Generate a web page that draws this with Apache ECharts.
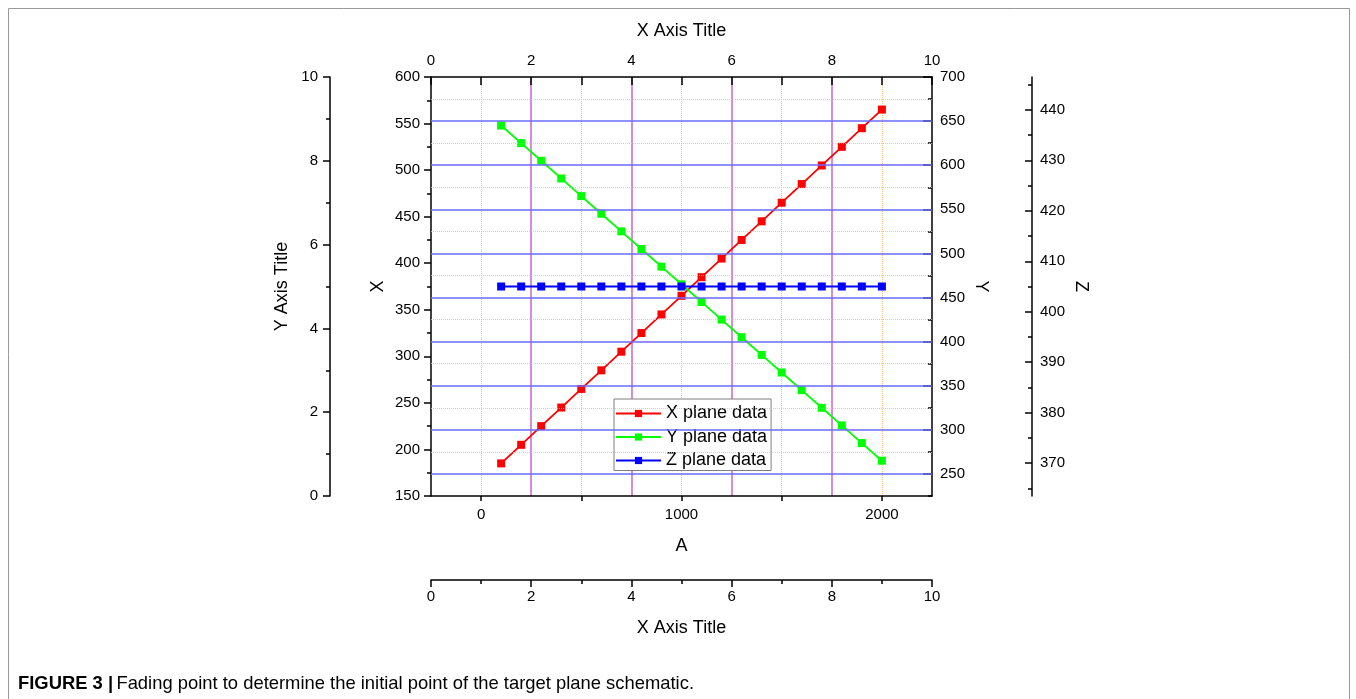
<!DOCTYPE html>
<html>
<head>
<meta charset="utf-8">
<script src="https://cdn.jsdelivr.net/npm/echarts@6/dist/echarts.min.js"></script>
<style>
html,body{margin:0;padding:0;background:#fff;}
#chart{width:1356px;height:699px;}
</style>
</head>
<body>
<div id="chart"></div>
<script>
// ---- data ----
const aValues = [100,200,300,400,500,600,700,800,900,1000,1100,1200,1300,1400,1500,1600,1700,1800,1900,2000];
const xPlane = [185,205,225,245,265,285,305,325,345,365,385,405,425,445,465,485,505,525,545,565];
const yPlane = [645,625,605,585,565,545,525,505,485,465,445,425,405,385,365,345,325,305,285,265];
const zPlane = [405,405,405,405,405,405,405,405,405,405,405,405,405,405,405,405,405,405,405,405];
const seriesNames = ['X plane data','Y plane data','Z plane data'];
// tick / grid values
const aTickValues = [0,500,1000,1500,2000];
const aLabelValues = [0,1000,2000];
const yMajorTicks = [250,300,350,400,450,500,550,600,650,700];
const yMajorGrid = [250,300,350,400,450,500,550,600,650];
const yMinorGrid = [275,325,375,425,475,525,575,625,675];
const zMajorTicks = [370,380,390,400,410,420,430,440];
const zMinorTicks = [365,375,385,395,405,415,425,435,445];

const FONT = "'Liberation Sans', Arial, sans-serif";
const chart = echarts.init(document.getElementById('chart'));

const lbl = (extra) => Object.assign({color:'#000', fontSize:15, fontFamily:FONT}, extra||{});
const nameStyle = {color:'#000', fontSize:18, fontFamily:FONT};
const axLine = {show:true, onZero:false, lineStyle:{color:'#000', width:1.5}};
const noLine = {show:false, onZero:false};
const tickStyle = {color:'#000', width:1.5};
const plain = (v) => String(v);

function pairs(ys){ return aValues.map((a,i)=>[a, ys[i]]); }

const gridMarks = []
  .concat(yMinorGrid.map(v => ({yAxis:v, lineStyle:{color:'#ff9cff', width:1, type:'dotted', opacity:0.8}})))
  .concat(yMajorGrid.map(v => ({yAxis:v, lineStyle:{color:'#6a6aff', width:1.6, type:'solid'}})));

const option = {
  animation:false,
  backgroundColor:'#fff',
  grid:{left:431, right:424, top:77, bottom:203, containLabel:false},
  legend:{
    data:seriesNames, orient:'vertical', left:614, top:399,
    itemWidth:45, itemHeight:9, itemGap:3.5,
    padding:[4.5,4,0,1],
    backgroundColor:'#fff', borderColor:'#7f7f7f', borderWidth:1, borderRadius:0,
    textStyle:{color:'#000', fontSize:18, fontFamily:FONT, lineHeight:20}
  },
  xAxis:[
    { // A axis (bottom)
      type:'value', position:'bottom', min:-250, max:2250,
      name:'A', nameLocation:'middle', nameGap:41, nameTextStyle:nameStyle,
      axisLine:axLine,
      axisTick:{show:true, inside:false, length:5, lineStyle:tickStyle, customValues:aTickValues},
      axisLabel:lbl({margin:11, customValues:aLabelValues, formatter:plain}),
      splitLine:{show:false}
    },
    { // top axis 0..10
      type:'value', position:'top', min:0, max:10, interval:2,
      name:'X Axis Title', nameLocation:'middle', nameGap:37, nameTextStyle:nameStyle,
      axisLine:axLine,
      axisTick:{show:true, inside:true, length:8, lineStyle:tickStyle},
      minorTick:{show:true, splitNumber:2, length:8, lineStyle:{color:'#000', width:1.5}},
      axisLabel:lbl({margin:9}),
      splitLine:{show:true, showMinLine:false, showMaxLine:false, lineStyle:{color:'#cc70cc', width:1.6}},
      minorSplitLine:{show:true, lineStyle:{color:'#ffbf80', width:1, type:'dotted'}}
    },
    { // extra bottom axis 0..10
      type:'value', position:'bottom', offset:84, min:0, max:10, interval:2,
      name:'X Axis Title', nameLocation:'middle', nameGap:39, nameTextStyle:nameStyle,
      axisLine:axLine,
      axisTick:{show:true, inside:false, length:7, lineStyle:tickStyle},
      minorTick:{show:true, splitNumber:2, length:4, lineStyle:{color:'#000', width:1.5}},
      axisLabel:lbl({margin:9}),
      splitLine:{show:false}
    }
  ],
  yAxis:[
    { // 0: left X axis
      type:'value', position:'left', min:150, max:600, interval:50,
      name:'X', nameLocation:'middle', nameGap:44, nameRotate:90, nameTextStyle:nameStyle,
      axisLine:axLine,
      axisTick:{show:true, inside:false, length:7, lineStyle:tickStyle},
      minorTick:{show:true, splitNumber:2, length:4, lineStyle:{color:'#000', width:1.5}},
      axisLabel:lbl({margin:11}),
      splitLine:{show:false}
    },
    { // 1: far-left Y Axis Title axis
      type:'value', position:'left', offset:101, min:0, max:10, interval:2,
      name:'Y Axis Title', nameLocation:'middle', nameGap:39, nameRotate:90, nameTextStyle:nameStyle,
      axisLine:axLine,
      axisTick:{show:true, inside:false, length:7, lineStyle:tickStyle},
      minorTick:{show:true, splitNumber:2, length:4, lineStyle:{color:'#000', width:1.5}},
      axisLabel:lbl({margin:12}),
      splitLine:{show:false}
    },
    { // 2: right Y axis (labels, short ticks)
      type:'value', position:'right', min:225, max:700, interval:25,
      name:'Y', nameLocation:'middle', nameGap:40, nameRotate:-90, nameTextStyle:nameStyle,
      axisLine:axLine,
      axisTick:{show:true, inside:true, length:4, lineStyle:tickStyle},
      axisLabel:lbl({margin:8, formatter:(v)=> (v % 50 === 0 ? String(v) : '')}),
      splitLine:{show:false}
    },
    { // 3: right Y major ticks
      type:'value', position:'right', min:225, max:700,
      axisLine:noLine,
      axisTick:{show:true, inside:true, length:9, lineStyle:tickStyle, customValues:yMajorTicks},
      axisLabel:{show:false}, splitLine:{show:false}
    },
    { // 4: Z axis
      type:'value', position:'right', offset:100, min:363.5, max:446.5,
      name:'Z', nameLocation:'middle', nameGap:40, nameRotate:-90, nameTextStyle:nameStyle,
      axisLine:axLine,
      axisTick:{show:true, inside:true, length:7, lineStyle:tickStyle, customValues:zMajorTicks},
      axisLabel:lbl({margin:8, customValues:zMajorTicks, formatter:plain}),
      splitLine:{show:false}
    },
    { // 5: Z minor ticks
      type:'value', position:'right', offset:100, min:363.5, max:446.5,
      axisLine:noLine,
      axisTick:{show:true, inside:true, length:4, lineStyle:tickStyle, customValues:zMinorTicks},
      axisLabel:{show:false}, splitLine:{show:false}
    }
  ],
  series:[
    {name:'grid', type:'line', xAxisIndex:0, yAxisIndex:2, data:[], z:1, silent:true,
     markLine:{silent:true, symbol:['none','none'], label:{show:false}, animation:false,
       emphasis:{disabled:true}, data:gridMarks}},
    {name:seriesNames[0], type:'line', xAxisIndex:0, yAxisIndex:0, data:pairs(xPlane),
     symbol:'rect', symbolSize:8, itemStyle:{color:'#ff0000'}, lineStyle:{color:'#ff0000', width:1.8}, z:3},
    {name:seriesNames[1], type:'line', xAxisIndex:0, yAxisIndex:2, data:pairs(yPlane),
     symbol:'rect', symbolSize:8, itemStyle:{color:'#00ff00'}, lineStyle:{color:'#00ff00', width:1.8}, z:3},
    {name:seriesNames[2], type:'line', xAxisIndex:0, yAxisIndex:4, data:pairs(zPlane),
     symbol:'rect', symbolSize:8, itemStyle:{color:'#0000ff'}, lineStyle:{color:'#0000ff', width:1.8}, z:3}
  ],
  graphic:[
    {type:'rect', shape:{x:8.5, y:8.5, width:1341, height:720},
     style:{fill:'none', stroke:'#999', lineWidth:1}, silent:true, z:-10},
    {type:'text', left:18, top:675,
     style:{
       text:'{b|FIGURE 3 |} {n|Fading point to determine the initial point of the target plane schematic.}',
       rich:{
         b:{fontFamily:FONT, fontWeight:'bold', fontSize:18.4, fill:'#000'},
         n:{fontFamily:FONT, fontSize:18.4, fill:'#000'}
       }
     }}
  ]
};
chart.setOption(option);
</script>
</body>
</html>
